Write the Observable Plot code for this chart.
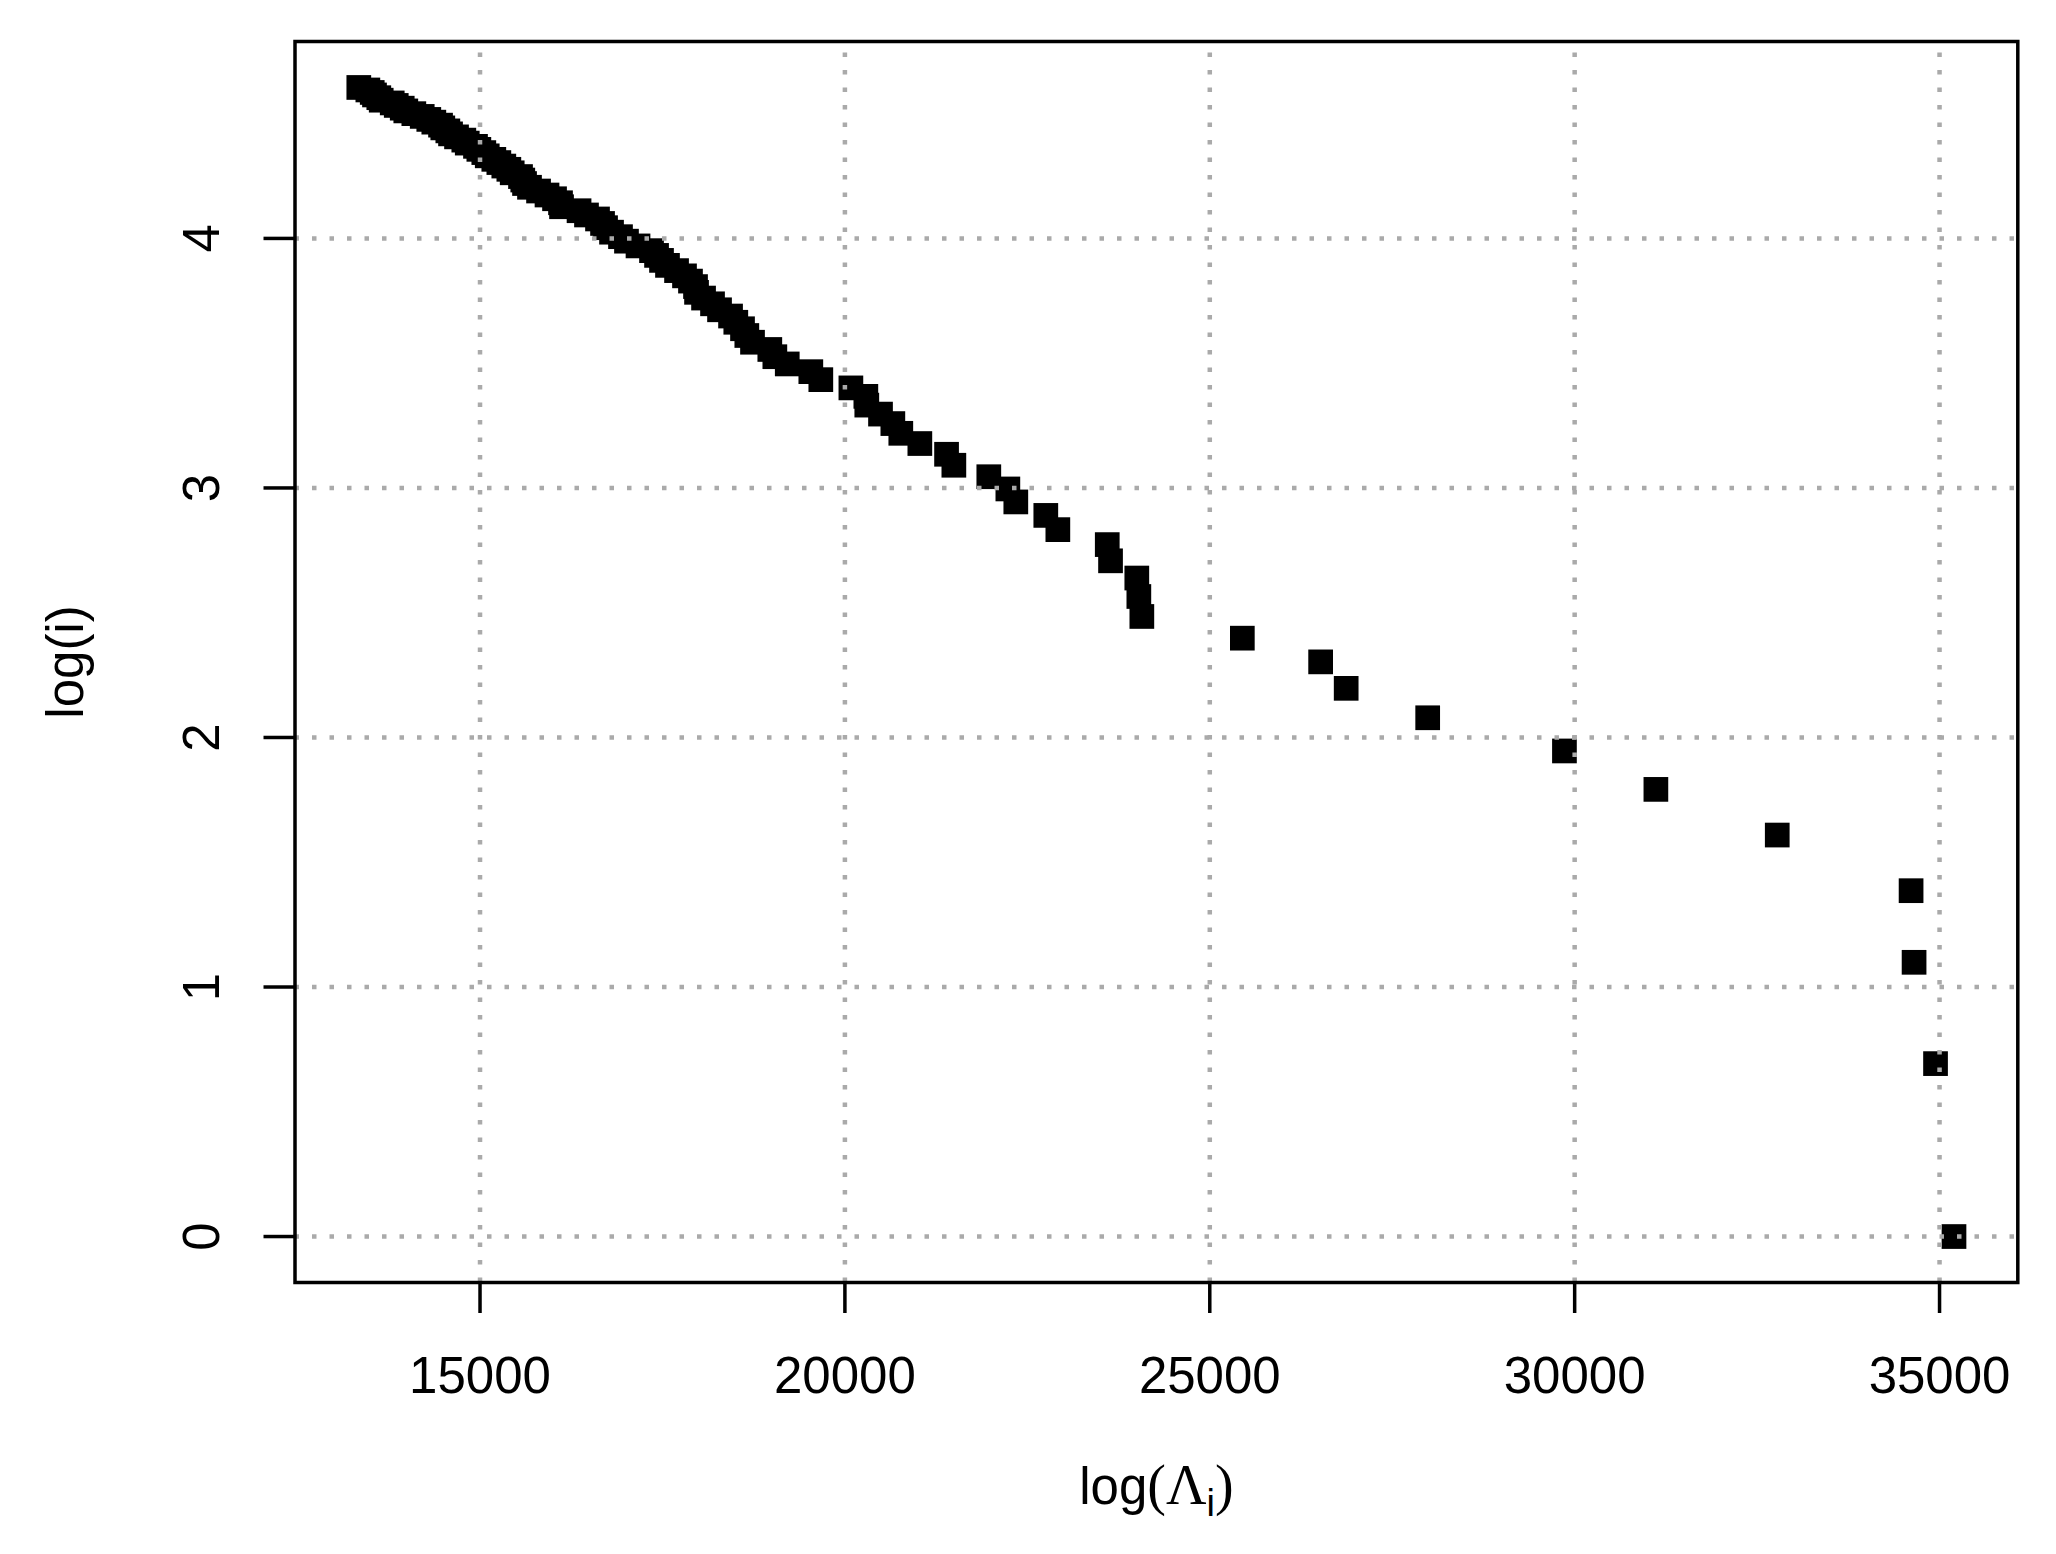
<!DOCTYPE html>
<html>
<head>
<meta charset="utf-8">
<script src="https://cdn.jsdelivr.net/npm/d3@7"></script>
<script src="https://cdn.jsdelivr.net/npm/@observablehq/plot@0.6"></script>
<style>
  html, body { margin: 0; padding: 0; background: #fff; }
  svg { display: block; }
</style>
</head>
<body>
<div id="chart"></div>
<script>
// log(Lambda_i) for ranks i = 1..100
const logLambda = [
  35198, 34945, 34651, 34610, 32776, 31113, 29860, 27986, 26869, 26519,
  25446, 24069, 24028, 24000, 23640, 23595, 22918, 22753, 22342, 22233,
  21972, 21493, 21393, 21027, 20766, 20657, 20488, 20300, 20287, 20082,
  19670, 19533, 19210, 19040, 18971, 18734, 18656, 18597, 18505, 18433,
  18282, 18186, 18063, 17967, 17953, 17884, 17802, 17693, 17569, 17487,
  17419, 17350, 17165, 17007, 16925, 16802, 16720, 16679, 16610, 16459,
  16357, 16117, 16103, 16021, 15918, 15802, 15678, 15610, 15586, 15555,
  15441, 15395, 15326, 15258, 15189, 15099, 15052, 14984, 14938, 14825,
  14778, 14678, 14596, 14559, 14490, 14459, 14367, 14298, 14208, 14093,
  13983, 13934, 13852, 13797, 13646, 13613, 13554, 13523, 13463, 13339
];
// log(i) for the same ranks
const logRank = [
  0.000, 0.693, 1.099, 1.386, 1.609, 1.792, 1.946, 2.079, 2.197, 2.303,
  2.398, 2.485, 2.565, 2.639, 2.708, 2.773, 2.833, 2.890, 2.944, 2.996,
  3.045, 3.091, 3.135, 3.178, 3.219, 3.258, 3.296, 3.332, 3.367, 3.401,
  3.434, 3.466, 3.497, 3.526, 3.555, 3.584, 3.611, 3.638, 3.664, 3.689,
  3.714, 3.738, 3.761, 3.784, 3.807, 3.829, 3.850, 3.871, 3.892, 3.912,
  3.932, 3.951, 3.970, 3.989, 4.007, 4.025, 4.043, 4.060, 4.078, 4.094,
  4.111, 4.127, 4.143, 4.159, 4.174, 4.190, 4.205, 4.220, 4.234, 4.248,
  4.263, 4.277, 4.290, 4.304, 4.317, 4.331, 4.344, 4.357, 4.369, 4.382,
  4.394, 4.407, 4.419, 4.431, 4.443, 4.454, 4.466, 4.477, 4.489, 4.500,
  4.511, 4.522, 4.533, 4.543, 4.554, 4.564, 4.575, 4.585, 4.595, 4.605
];
const xTicks = [15000, 20000, 25000, 30000, 35000];
const yTicks = [0, 1, 2, 3, 4];
const xLabel = "log(Λi)";
const yLabel = "log(i)";

const data = logLambda.map((x, k) => ({x, y: logRank[k]}));

function padded(values) {
  const [a, b] = d3.extent(values);
  const p = 0.04 * (b - a);
  return [a - p, b + p];
}
const xDomain = padded(logLambda);
const yDomain = padded(logRank);

const W = 2056, H = 1554;
const mL = 294.5, mR = 38.7, mT = 41, mB = 272;
const FONT = "'Liberation Sans', Arimo, Helvetica, Arial, sans-serif";
const SERIF = "'Liberation Serif', 'DejaVu Serif', serif";
const FS = 51;
const gridColor = "#aaaaaa";

const chart = Plot.plot({
  width: W,
  height: H,
  marginLeft: mL,
  marginRight: mR,
  marginTop: mT,
  marginBottom: mB,
  style: {fontFamily: FONT, fontSize: FS + "px", background: "#fff", color: "#000"},
  x: {domain: xDomain, label: null},
  y: {domain: yDomain, label: null},
  marks: [
    Plot.dot(data, {x: "x", y: "y", symbol: "square", r: 13.94, fill: "#000", stroke: "none"}),
    Plot.ruleX(xTicks, {x: d => d, y1: yDomain[0], y2: yDomain[1], stroke: gridColor, strokeWidth: 4.5, strokeDasharray: "4.5 13"}),
    Plot.ruleY(yTicks, {y: d => d, x1: xDomain[0], x2: xDomain[1], stroke: gridColor, strokeWidth: 4.5, strokeDasharray: "4.5 13"}),
    Plot.frame({stroke: "#000", strokeWidth: 3.5}),
    Plot.axisX(xTicks, {anchor: "bottom", tickSize: 31, tickPadding: 43, strokeWidth: 3.5, fontSize: FS, tickFormat: d => String(d), label: null}),
    Plot.axisY(yTicks, {anchor: "left", tickSize: 31, tickPadding: 45.5, tickRotate: -90, textAnchor: "middle", lineAnchor: "bottom", strokeWidth: 3.5, fontSize: FS, tickFormat: d => String(d), label: null}),
    Plot.text([yLabel], {text: d => d, frameAnchor: "left", dx: -212.5, rotate: -90, textAnchor: "middle", lineAnchor: "bottom", fontSize: FS}),
    Plot.text([xLabel], {text: d => d, frameAnchor: "bottom", dy: 221, textAnchor: "middle", lineAnchor: "bottom", fontSize: FS})
  ]
});

// render x title with the plotmath look: serif parentheses and Lambda, subscript i
d3.select(chart).selectAll("text").each(function () {
  if (this.textContent === xLabel) {
    const t = d3.select(this);
    t.text(null);
    t.append("tspan").text("log");
    t.append("tspan").attr("font-family", SERIF).attr("font-size", 56).text("(");
    t.append("tspan").attr("font-family", SERIF).attr("font-size", 56).text("Λ");
    t.append("tspan").attr("font-size", 38).attr("dy", 12).text("i");
    t.append("tspan").attr("font-family", SERIF).attr("font-size", 56).attr("dy", -12).text(")");
  }
});

document.getElementById("chart").appendChild(chart);
</script>
</body>
</html>
